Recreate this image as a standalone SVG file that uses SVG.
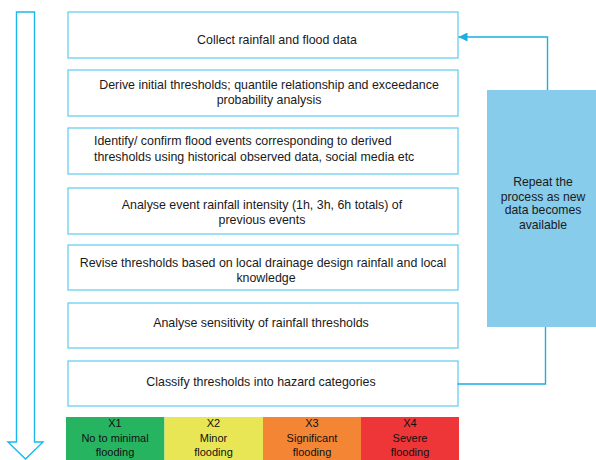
<svg xmlns="http://www.w3.org/2000/svg" width="596" height="460" viewBox="0 0 596 460">
<defs>
<style>
.box{fill:#ffffff;stroke:#5cccf0;stroke-width:1.2}
.t{font-family:"Liberation Sans",Arial,sans-serif;font-size:12.4px;fill:#1a1a1a;text-anchor:middle}
.tl{font-family:"Liberation Sans",Arial,sans-serif;font-size:12.4px;fill:#1a1a1a}
.tr{font-family:"Liberation Sans",Arial,sans-serif;font-size:12.2px;fill:#1a1a1a;text-anchor:middle}
.c{fill:none;stroke:#1aaee2;stroke-width:1.4}
.ct{font-family:"Liberation Sans",Arial,sans-serif;font-size:11px;fill:#111;text-anchor:middle}
</style>
<marker id="ah" viewBox="0 0 10 10" refX="10" refY="5" markerWidth="9" markerHeight="9" markerUnits="userSpaceOnUse" orient="auto">
<path d="M0,0 L10,5 L0,10 z" fill="#1aaee2"/>
</marker>
</defs>
<rect width="596" height="460" fill="#ffffff"/>
<g id="flow-arrow">
<path d="M16.5,12 L34.5,12 L34.5,442 L43,442 L25.5,459 L8,442 L16.5,442 Z" fill="none" stroke="#1ab8ec" stroke-width="1.4"/>
</g>
<g id="n1"><rect class="box" x="68" y="12" width="390" height="46"/><text class="t" x="277" y="44">Collect rainfall and flood data</text></g>
<g id="n2"><rect class="box" x="68" y="70" width="390" height="46"/><text class="t" x="269" y="89">Derive initial thresholds; quantile relationship and exceedance</text><text class="t" x="269" y="104">probability analysis</text></g>
<g id="n3"><rect class="box" x="68" y="128" width="390" height="46"/><text class="tl" x="94" y="145">Identify/ confirm flood events corresponding to derived</text><text class="tl" x="94" y="161">thresholds using historical observed data, social media etc</text></g>
<g id="n4"><rect class="box" x="68" y="188" width="390" height="46"/><text class="t" x="262" y="209">Analyse event rainfall intensity (1h, 3h, 6h totals) of</text><text class="t" x="262" y="224">previous events</text></g>
<g id="n5"><rect class="box" x="68" y="245" width="390" height="45"/><text class="t" x="263" y="267">Revise thresholds based on local drainage design rainfall and local</text><text class="t" x="266" y="282">knowledge</text></g>
<g id="n6"><rect class="box" x="68" y="303" width="390" height="45"/><text class="t" x="261" y="327">Analyse sensitivity of rainfall thresholds</text></g>
<g id="n7"><rect class="box" x="68" y="361" width="390" height="45"/><text class="t" x="261" y="386">Classify thresholds into hazard categories</text></g>
<g id="repeat"><rect x="487" y="90" width="109" height="237" fill="#87ccea"/><text class="tr" x="543" y="186">Repeat the</text><text class="tr" x="543" y="201">process as new</text><text class="tr" x="543" y="214">data becomes</text><text class="tr" x="543" y="229">available</text></g>
<g id="x1"><rect x="66" y="417" width="98.5" height="43" fill="#27b461"/><text class="ct" x="115" y="427">X1</text><text class="ct" x="115" y="442">No to minimal</text><text class="ct" x="115" y="456">flooding</text></g>
<g id="x2"><rect x="164.5" y="417" width="98.5" height="43" fill="#e9e656"/><text class="ct" x="213.5" y="427">X2</text><text class="ct" x="213.5" y="442">Minor</text><text class="ct" x="213.5" y="456">flooding</text></g>
<g id="x3"><rect x="263" y="417" width="98" height="43" fill="#f48535"/><text class="ct" x="312" y="427">X3</text><text class="ct" x="312" y="442">Significant</text><text class="ct" x="312" y="456">flooding</text></g>
<g id="x4"><rect x="361" y="417" width="98" height="43" fill="#ee3537"/><text class="ct" x="410" y="427">X4</text><text class="ct" x="410" y="442">Severe</text><text class="ct" x="410" y="456">flooding</text></g>
<g id="connectors">
<path class="c" d="M547.5,90 L547.5,37 L458.5,37" marker-end="url(#ah)"/>
<path class="c" d="M545.5,327 L545.5,384 L457.5,384"/>
</g>
</svg>
